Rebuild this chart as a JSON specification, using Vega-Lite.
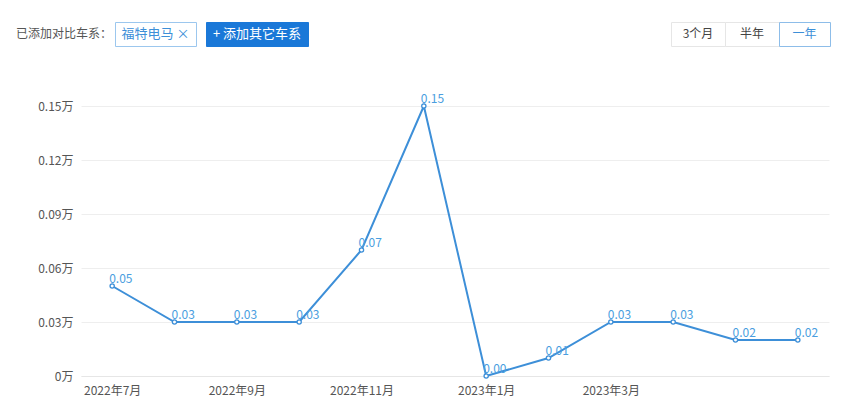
{
  "$schema": "https://vega.github.io/schema/vega-lite/v6.json",
  "padding": {"left": 15, "top": 21, "right": 0, "bottom": 0},
  "background": "white",
  "config": {
    "font": "Noto Sans CJK SC",
    "view": {"stroke": null},
    "text": {"font": "Noto Sans CJK SC"},
    "axis": {"labelFont": "Noto Sans CJK SC", "titleFont": "Noto Sans CJK SC"}
  },
  "spacing": 46,
  "vconcat": [
    {
      "spacing": 0,
      "bounds": "flush",
      "hconcat": [
        {"width": 100, "height": 24, "data": {"values": [{"label": "已添加对比车系："}]},
          "mark": {"type": "text", "fontSize": 12, "color": "#555555", "dx": -1}, "encoding": {"text": {"field": "label"}}},
        {"width": 81, "height": 24, "view": {"stroke": "#9cc7ee", "strokeWidth": 1, "fill": "white"}, "data": {"values": [{"label": "福特电马 ×"}]},
          "mark": {"type": "text", "fontSize": 13, "color": "#3d8fd8"}, "encoding": {"text": {"field": "label"}}},
        {"width": 10, "height": 24, "data": {"values": [{"label": ""}]},
          "mark": {"type": "text"}, "encoding": {"text": {"field": "label"}}},
        {"width": 102, "height": 24, "view": {"fill": "#1a78d8", "stroke": "#1a78d8"}, "data": {"values": [{"label": "+ 添加其它车系"}]},
          "mark": {"type": "text", "fontSize": 13, "color": "white"}, "encoding": {"text": {"field": "label"}}},
        {"width": 363, "height": 24, "data": {"values": [{"label": ""}]},
          "mark": {"type": "text"}, "encoding": {"text": {"field": "label"}}},
        {"width": 54, "height": 24, "view": {"stroke": "#e6e6e6", "fill": "white"}, "data": {"values": [{"label": "3个月"}]},
          "mark": {"type": "text", "fontSize": 12, "color": "#444444"}, "encoding": {"text": {"field": "label"}}},
        {"width": 54, "height": 24, "view": {"stroke": "#e6e6e6", "fill": "white"}, "data": {"values": [{"label": "半年"}]},
          "mark": {"type": "text", "fontSize": 12, "color": "#444444"}, "encoding": {"text": {"field": "label"}}},
        {"width": 51, "height": 24, "view": {"stroke": "#8dbde9", "fill": "white"}, "data": {"values": [{"label": "一年"}]},
          "mark": {"type": "text", "fontSize": 12, "color": "#3d8fd8"}, "encoding": {"text": {"field": "label"}}}
      ]
    },
    {
      "spacing": 0,
      "hconcat": [
        {"width": 22, "height": 270, "data": {"values": [{"label": ""}]},
          "mark": {"type": "text"}, "encoding": {"text": {"field": "label"}}},
        {
          "width": 748,
          "height": 270,
          "data": {"values": [
            {"month": "2022年7月", "value": 0.05},
            {"month": "2022年8月", "value": 0.03},
            {"month": "2022年9月", "value": 0.03},
            {"month": "2022年10月", "value": 0.03},
            {"month": "2022年11月", "value": 0.07},
            {"month": "2022年12月", "value": 0.15},
            {"month": "2023年1月", "value": 0.0},
            {"month": "2023年2月", "value": 0.01},
            {"month": "2023年3月", "value": 0.03},
            {"month": "2023年4月", "value": 0.03},
            {"month": "2023年5月", "value": 0.02},
            {"month": "2023年6月", "value": 0.02}
          ]},
          "encoding": {
            "x": {"field": "month", "type": "ordinal", "sort": null,
              "scale": {"type": "point", "padding": 0.5},
              "axis": {"title": null, "labelAngle": 0, "ticks": false, "domain": true, "domainColor": "#e6e6e6",
                "values": ["2022年7月", "2022年9月", "2022年11月", "2023年1月", "2023年3月"],
                "labelColor": "#555555", "labelFontSize": 12, "labelPadding": 9}},
            "y": {"field": "value", "type": "quantitative",
              "scale": {"domain": [0, 0.15], "nice": false},
              "axis": {"title": null, "values": [0, 0.03, 0.06, 0.09, 0.12, 0.15], "ticks": false, "domain": false,
                "gridColor": "#eeeeee", "labelColor": "#555555", "labelFontSize": 12, "labelPadding": 8,
                "labelExpr": "datum.value == 0 ? '0万' : format(datum.value, '.2f') + '万'"}}
          },
          "layer": [
            {"mark": {"type": "line", "color": "#3d8fd8", "strokeWidth": 2}},
            {"mark": {"type": "point", "shape": "circle", "filled": true, "fill": "white", "stroke": "#3d8fd8", "strokeWidth": 1.3, "size": 18, "opacity": 1}},
            {"mark": {"type": "text", "align": "left", "baseline": "alphabetic", "dx": -3, "dy": -3, "fontSize": 12, "color": "#4a9ee0"},
              "encoding": {"text": {"field": "value", "type": "quantitative", "format": ".2f"}}}
          ]
        }
      ]
    }
  ]
}
